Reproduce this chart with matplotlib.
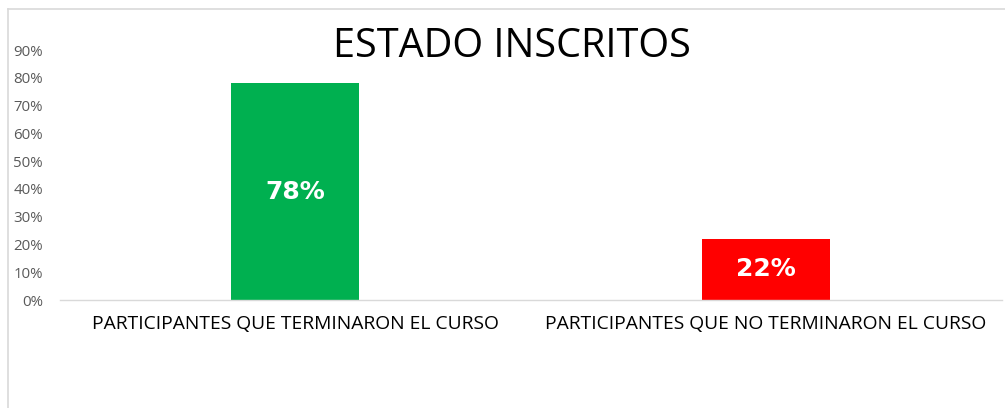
import matplotlib
matplotlib.use("Agg")
import matplotlib.pyplot as plt
from matplotlib.lines import Line2D

categories = ["PARTICIPANTES QUE TERMINARON EL CURSO", "PARTICIPANTES QUE NO TERMINARON EL CURSO"]
values = [0.78, 0.22]
bar_labels = ["78%", "22%"]
colors = ["#00B050", "#FF0000"]
yticks = [0, 0.1, 0.2, 0.3, 0.4, 0.5, 0.6, 0.7, 0.8, 0.9]
ytick_labels = ["0%", "10%", "20%", "30%", "40%", "50%", "60%", "70%", "80%", "90%"]
title = "ESTADO INSCRITOS"

plt.rcParams['font.family'] = ['Open Sans', 'DejaVu Sans']

W, H = 1005, 408
fig = plt.figure(figsize=(W / 100, H / 100), dpi=100)
ax = fig.add_axes([59.5 / W, 1 - 300 / H, 942 / W, 250 / H])

x = list(range(len(categories)))
bars = ax.bar(x, values, width=0.272, color=colors)
for b, lab in zip(bars, bar_labels):
    ax.text(b.get_x() + b.get_width() / 2, b.get_height() / 2, lab,
            ha='center', va='center', color='white', fontsize=18, fontweight='bold',
            family='DejaVu Sans')

ax.set_xlim(-0.5, 1.5)
ax.set_ylim(0, 0.9)
ax.set_yticks(yticks)
ax.set_yticklabels(ytick_labels, color='#595959', fontsize=10.8)
ax.set_xticks(x)
ax.set_xticklabels(categories, fontsize=13.9, color='black')
ax.tick_params(axis='both', length=0)
ax.tick_params(axis='x', pad=10.5)
ax.tick_params(axis='y', pad=12)
for s in ['top', 'right', 'left']:
    ax.spines[s].set_visible(False)
ax.spines['bottom'].set_color('#D9D9D9')
ax.spines['bottom'].set_linewidth(1)

fig.text(512 / W, 1 - 47 / H, title, ha='center', va='center', fontsize=28.5, color='black')

# chart area border
fig.add_artist(Line2D([7.5 / W, 7.5 / W], [0, 1 - 8.5 / H], transform=fig.transFigure,
                      color='#D9D9D9', lw=1.2))
fig.add_artist(Line2D([7.5 / W, 1], [1 - 8.5 / H, 1 - 8.5 / H], transform=fig.transFigure,
                      color='#D9D9D9', lw=1.2))

fig.savefig("out.png", dpi=100, facecolor='white')
